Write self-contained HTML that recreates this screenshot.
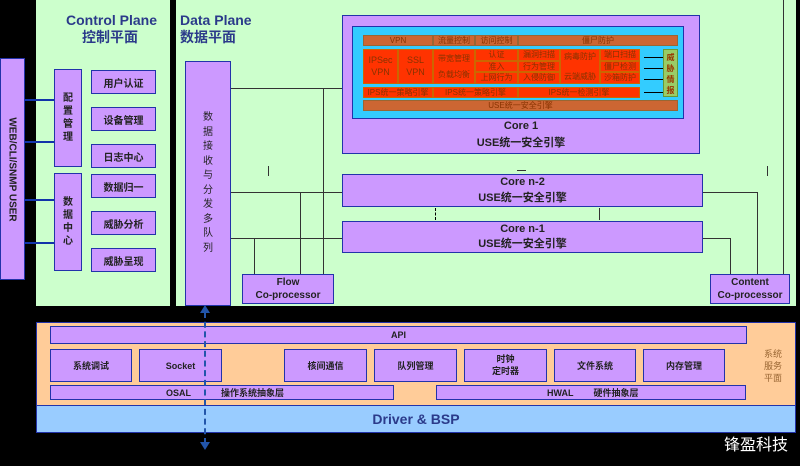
<!DOCTYPE html>
<html><head><meta charset="utf-8"><style>
body{margin:0;width:800px;height:466px;background:#000;position:relative;overflow:hidden;font-family:"Liberation Sans","Noto Sans CJK SC",sans-serif}
div{position:absolute;box-sizing:border-box}
.p{background:#cc99ff;border:1px solid #2233aa;display:flex;align-items:center;justify-content:center;text-align:center;font-size:10px;font-weight:bold;color:#222}
.o{background:#ff3300;border:1px solid #cc6600;display:flex;align-items:center;justify-content:center;text-align:center;font-size:8px;color:#883300;line-height:1.25}
.ob{background:#cc6633;border:1px solid #996633;display:flex;align-items:center;justify-content:center;font-size:8px;color:#883300}
.l{background:#333}
.t{color:#2b3a8a;font-weight:bold;font-size:14px;line-height:17px}
</style></head><body>
<div class="p" style="left:0;top:58px;width:25px;height:222px;border-color:#2233aa"><span style="transform:rotate(90deg);white-space:nowrap;font-size:10px">WEB/CLI/SNMP USER</span></div>
<div style="left:36px;top:0;width:134px;height:306px;background:#ccffcc"></div>
<div style="left:176px;top:0;width:620px;height:306px;background:#ccffcc"></div>
<div class="t" style="left:66px;top:12px">Control Plane<br><span style="margin-left:16px">控制平面</span></div>
<div class="t" style="left:180px;top:12px">Data Plane<br>数据平面</div>
<div class="l" style="left:25px;top:99px;width:29px;height:2px;background:#1133aa"></div>
<div class="l" style="left:25px;top:141px;width:29px;height:2px;background:#1133aa"></div>
<div class="l" style="left:25px;top:199px;width:29px;height:2px;background:#1133aa"></div>
<div class="l" style="left:25px;top:242px;width:29px;height:2px;background:#1133aa"></div>
<div class="p" style="left:54px;top:69px;width:28px;height:98px;line-height:1.3">配<br>置<br>管<br>理</div>
<div class="p" style="left:54px;top:173px;width:28px;height:98px;line-height:1.3">数<br>据<br>中<br>心</div>
<div class="p" style="left:91px;top:70px;width:65px;height:24px">用户认证</div>
<div class="p" style="left:91px;top:107px;width:65px;height:24px">设备管理</div>
<div class="p" style="left:91px;top:144px;width:65px;height:24px">日志中心</div>
<div class="p" style="left:91px;top:174px;width:65px;height:24px">数据归一</div>
<div class="p" style="left:91px;top:211px;width:65px;height:24px">威胁分析</div>
<div class="p" style="left:91px;top:248px;width:65px;height:24px">威胁呈现</div>
<div class="p" style="left:185px;top:61px;width:46px;height:245px;line-height:1.45;font-weight:normal">数<br>据<br>接<br>收<br>与<br>分<br>发<br>多<br>队<br>列</div>
<div class="l" style="left:231px;top:88px;width:111px;height:1px"></div>
<div class="l" style="left:231px;top:192px;width:111px;height:1px"></div>
<div class="l" style="left:231px;top:238px;width:111px;height:1px"></div>
<div class="l" style="left:323px;top:88px;width:1px;height:186px"></div>
<div class="l" style="left:300px;top:192px;width:1px;height:82px"></div>
<div class="l" style="left:254px;top:238px;width:1px;height:36px"></div>
<div class="l" style="left:268px;top:166px;width:1px;height:10px"></div>
<div class="p" style="left:242px;top:274px;width:92px;height:30px;line-height:1.3">Flow<br>Co-processor</div>
<div class="p" style="left:342px;top:15px;width:358px;height:139px;align-items:flex-end;padding-bottom:2px;line-height:1.5;font-size:11px">Core 1<br>USE统一安全引擎</div>
<div style="left:352px;top:26px;width:332px;height:93px;background:#33ccff;border:1px solid #2233aa"></div>
<div class="ob" style="left:363px;top:35px;width:70px;height:11px">VPN</div>
<div class="ob" style="left:433px;top:35px;width:42px;height:11px">流量控制</div>
<div class="ob" style="left:475px;top:35px;width:43px;height:11px">访问控制</div>
<div class="ob" style="left:518px;top:35px;width:160px;height:11px">僵尸防护</div>
<div class="o" style="left:363px;top:49px;width:35px;height:35px;font-size:9px">IPSec<br>VPN</div>
<div class="o" style="left:398px;top:49px;width:35px;height:35px;font-size:9px">SSL<br>VPN</div>
<div class="o" style="left:433px;top:49px;width:42px;height:35px;line-height:2">带宽管理<br>负载均衡</div>
<div class="o" style="left:475px;top:49px;width:43px;height:12px">认证</div>
<div class="o" style="left:475px;top:61px;width:43px;height:11px">准入</div>
<div class="o" style="left:475px;top:72px;width:43px;height:12px">上网行为</div>
<div class="o" style="left:518px;top:49px;width:42px;height:12px">漏洞扫描</div>
<div class="o" style="left:518px;top:61px;width:42px;height:11px">行为管理</div>
<div class="o" style="left:518px;top:72px;width:42px;height:12px">入侵防御</div>
<div class="o" style="left:560px;top:49px;width:40px;height:35px">病毒防护<br><br>云端威胁</div>
<div class="o" style="left:600px;top:49px;width:40px;height:12px">端口扫描</div>
<div class="o" style="left:600px;top:61px;width:40px;height:11px">僵尸检测</div>
<div class="o" style="left:600px;top:72px;width:40px;height:12px">沙箱防护</div>
<div class="o" style="left:363px;top:87px;width:70px;height:11px">IPS统一策略引擎</div>
<div class="o" style="left:433px;top:87px;width:85px;height:11px">IPS统一策略引擎</div>
<div class="o" style="left:518px;top:87px;width:122px;height:11px">IPS统一检测引擎</div>
<div class="ob" style="left:363px;top:100px;width:315px;height:11px">USE统一安全引擎</div>
<div style="left:663px;top:49px;width:15px;height:48px;background:#99cc66;border:1px solid #669933;font-size:8px;color:#993300;font-weight:bold;text-align:center;line-height:11px;padding-top:2px">威<br>胁<br>情<br>报</div>
<div class="l" style="left:644px;top:57px;width:19px;height:1px;background:#000"></div>
<div class="l" style="left:644px;top:68px;width:19px;height:1px;background:#000"></div>
<div class="l" style="left:644px;top:79px;width:19px;height:1px;background:#000"></div>
<div class="l" style="left:644px;top:92px;width:19px;height:1px;background:#000"></div>
<div class="l" style="left:517px;top:170px;width:9px;height:1px"></div>
<div class="p" style="left:342px;top:174px;width:361px;height:33px;line-height:1.4;font-size:11px">Core n-2<br>USE统一安全引擎</div>
<div class="p" style="left:342px;top:221px;width:361px;height:32px;line-height:1.4;font-size:11px">Core n-1<br>USE统一安全引擎</div>
<div class="l" style="left:435px;top:208px;width:1px;height:12px;border-left:1px dashed #000;background:none"></div>
<div class="l" style="left:599px;top:208px;width:1px;height:12px"></div>
<div class="l" style="left:703px;top:192px;width:54px;height:1px"></div>
<div class="l" style="left:757px;top:192px;width:1px;height:82px"></div>
<div class="l" style="left:703px;top:238px;width:27px;height:1px"></div>
<div class="l" style="left:730px;top:238px;width:1px;height:36px"></div>
<div class="l" style="left:783px;top:0;width:1px;height:274px"></div>
<div class="l" style="left:767px;top:166px;width:1px;height:10px"></div>
<div class="p" style="left:710px;top:274px;width:80px;height:30px;line-height:1.3">Content<br>Co-processor</div>
<div style="left:36px;top:322px;width:760px;height:84px;background:#ffcc99;border:1px solid #2233aa"></div>
<div style="left:36px;top:405px;width:760px;height:28px;background:#99ccff;border:1px solid #2233aa;color:#2b3a8a;font-weight:bold;font-size:14px;text-align:center;line-height:26px">Driver &amp; BSP</div>
<div class="p" style="left:50px;top:326px;width:697px;height:18px;font-size:9px">API</div>
<div class="p" style="left:50px;top:349px;width:82px;height:33px;font-size:9px">系统调试</div>
<div class="p" style="left:139px;top:349px;width:83px;height:33px;font-size:9px">Socket</div>
<div class="p" style="left:284px;top:349px;width:83px;height:33px;font-size:9px">核间通信</div>
<div class="p" style="left:374px;top:349px;width:83px;height:33px;font-size:9px">队列管理</div>
<div class="p" style="left:464px;top:349px;width:83px;height:33px;font-size:9px;line-height:1.3">时钟<br>定时器</div>
<div class="p" style="left:554px;top:349px;width:82px;height:33px;font-size:9px">文件系统</div>
<div class="p" style="left:643px;top:349px;width:82px;height:33px;font-size:9px">内存管理</div>
<div class="p" style="left:50px;top:385px;width:344px;height:15px;font-size:9px;justify-content:flex-start;padding-left:115px">OSAL<span style="margin-left:30px">操作系统抽象层</span></div>
<div class="p" style="left:436px;top:385px;width:310px;height:15px;font-size:9px;justify-content:flex-start;padding-left:110px">HWAL<span style="margin-left:20px">硬件抽象层</span></div>
<div style="left:760px;top:348px;width:26px;font-size:9px;color:#996633;text-align:center;line-height:12px">系统<br>服务<br>平面</div>
<div style="left:204px;top:312px;width:0;height:132px;border-left:2px dashed #2255aa"></div>
<div style="left:200px;top:305px;width:0;height:0;border-left:5px solid transparent;border-right:5px solid transparent;border-bottom:8px solid #2255aa"></div>
<div style="left:200px;top:442px;width:0;height:0;border-left:5px solid transparent;border-right:5px solid transparent;border-top:8px solid #2255aa"></div>
<div style="left:724px;top:431px;color:#fff;font-size:16px">锋盈科技</div>
</body></html>
